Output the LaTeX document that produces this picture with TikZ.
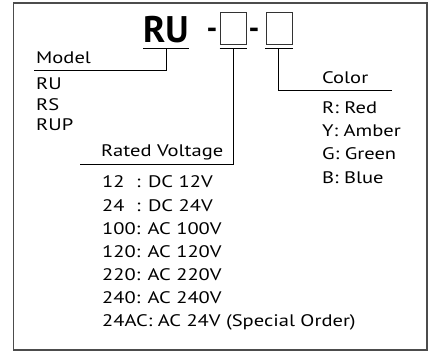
\documentclass[tikz,border=0pt]{standalone}
\usepackage{fontspec}
\setmainfont{PT Sans}[FakeStretch=1.23]
\newfontfamily\codefont{PT Sans}
\begin{document}
\begin{tikzpicture}[x=1pt,y=-1pt,
  txt/.style={anchor=base west,inner sep=0pt,font=\fontsize{16.7}{16.7}\selectfont},
  big/.style={anchor=base west,inner sep=0pt,font=\codefont\fontsize{37}{37}\selectfont\bfseries},
  dashmark/.style={inner sep=0pt,font=\codefont\fontsize{30}{30}\selectfont\bfseries},
  lead/.style={draw=black,line width=0.9pt},
  slot/.style={draw=black!80,line width=0.8pt}]
\useasboundingbox (0,0) rectangle (434,360);
\draw[draw=black!70,line width=1.4pt] (13.5,3) rectangle (427,350);
% code
\node[big] (ru) at (143,42) {RU};
\node[dashmark] (d1) at (212,33.5) {-};
\node[dashmark] (d2) at (254,33.5) {-};
\node[slot,minimum width=25.5pt,minimum height=32pt,inner sep=0pt] (b1) at (233.25,28.5) {};
\node[slot,minimum width=26pt,minimum height=32pt,inner sep=0pt] (b2) at (279,28.5) {};
% underlines
\coordinate (u1a) at (143,48); \coordinate (u1b) at (189,48);
\coordinate (u2a) at (219.5,48); \coordinate (u2b) at (247,48);
\coordinate (u3a) at (265,48); \coordinate (u3b) at (293,48);
\draw[lead] (u1a) -- (u1b);
\draw[lead] (u2a) -- (u2b);
\draw[lead] (u3a) -- (u3b);
\coordinate (m0) at (166.5,48); \coordinate (m1) at (34,70);
\coordinate (v0) at (233,48); \coordinate (v1) at (80,164);
\coordinate (c0) at (278,48); \coordinate (c1) at (392,90);
\draw[lead] (m0) |- (m1);
\draw[lead] (v0) |- (v1);
\draw[lead] (c0) |- (c1);
% model
\node[txt] (model) at (36,63) {Model};
\node[txt] (mru) at (36,89.3) {RU};
\node[txt] (mrs) at (36,110) {RS};
\node[txt] (mrup) at (36,130.3) {RUP};
% voltage
\node[txt] (rated) at (101,156.5) {Rated Voltage};
\node[txt] (v12) at (102,187.3) {\makebox[34pt][l]{12}: DC 12V};
\node[txt] (v24) at (102,211) {\makebox[34pt][l]{24}: DC 24V};
\node[txt] (v100) at (102,234.5) {100: AC 100V};
\node[txt] (v120) at (102,257.5) {120: AC 120V};
\node[txt] (v220) at (102,280.5) {220: AC 220V};
\node[txt] (v240) at (102,303.5) {240: AC 240V};
\node[txt] (v24ac) at (102,326.7) {24AC: AC 24V (Special Order)};
% color
\node[txt] (color) at (322,83) {Color};
\node[txt] (cr) at (322,113.3) {R: Red};
\node[txt] (cy) at (322,136.5) {Y: Amber};
\node[txt] (cg) at (322,159.5) {G: Green};
\node[txt] (cb) at (322,183) {B: Blue};
\end{tikzpicture}
\end{document}
